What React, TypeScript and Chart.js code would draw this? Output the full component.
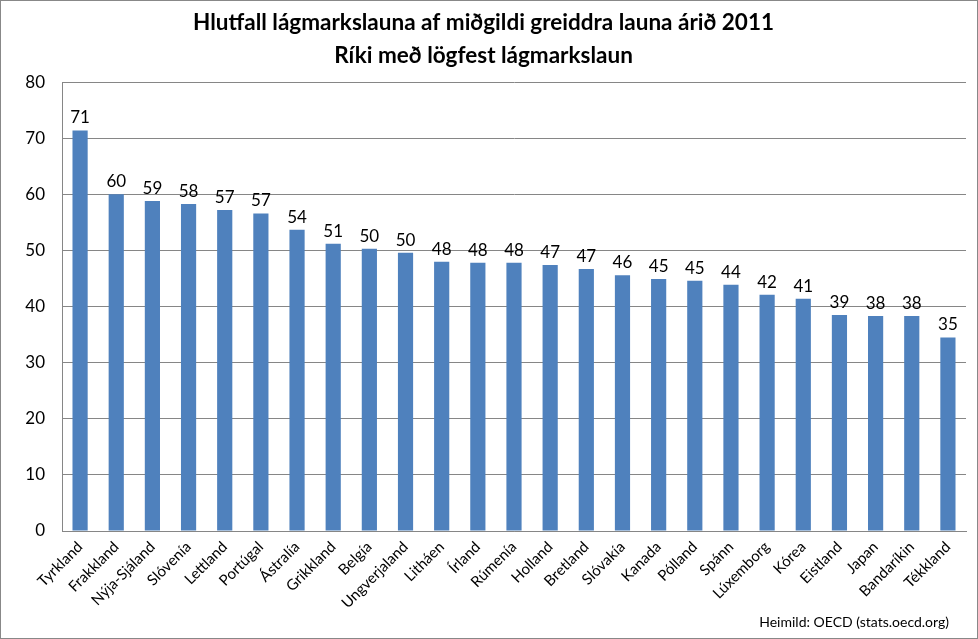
import React, { useEffect, useRef } from "react";
import { Chart, registerables } from "chart.js";

Chart.register(...registerables);

const titleLines = [
  "Hlutfall lágmarkslauna af miðgildi greiddra launa árið 2011",
  "Ríki með lögfest lágmarkslaun",
];
const sourceText = "Heimild: OECD (stats.oecd.org)";

const countries = [
  "Tyrkland", "Frakkland", "Nýja-Sjáland", "Slóvenía", "Lettland", "Portúgal",
  "Ástralía", "Grikkland", "Belgía", "Ungverjaland", "Litháen", "Írland",
  "Rúmenía", "Holland", "Bretland", "Slóvakía", "Kanada", "Pólland", "Spánn",
  "Lúxemborg", "Kórea", "Eistland", "Japan", "Bandaríkin", "Tékkland",
];
const ratios = [
  71.4, 60.0, 58.8, 58.3, 57.2, 56.6, 53.7, 51.2, 50.3, 49.6, 48.0, 47.8,
  47.8, 47.4, 46.7, 45.6, 44.9, 44.6, 43.9, 42.1, 41.4, 38.5, 38.3, 38.3, 34.5,
];
const yTicks = [0, 10, 20, 30, 40, 50, 60, 70, 80];

const FONT = "Lato, 'Liberation Sans', sans-serif";
const AXIS_GRAY = "#868686";
const BAR_BLUE = "#4f81bd";

const valueLabels = {
  id: "valueLabels",
  afterDatasetsDraw(chart: any) {
    const ctx = chart.ctx;
    const meta = chart.getDatasetMeta(0);
    ctx.save();
    ctx.font = `17px ${FONT}`;
    ctx.fillStyle = "#000";
    ctx.textAlign = "center";
    ctx.textBaseline = "bottom";
    meta.data.forEach((bar: any, i: number) => {
      const v = chart.data.datasets[0].data[i];
      ctx.fillText(String(Math.round(v)), bar.x, bar.y - 4);
    });
    ctx.restore();
  },
};

const sourceNote = {
  id: "sourceNote",
  afterDraw(chart: any) {
    const ctx = chart.ctx;
    ctx.save();
    ctx.font = `14px ${FONT}`;
    ctx.fillStyle = "#000";
    ctx.textAlign = "right";
    ctx.textBaseline = "middle";
    ctx.fillText(sourceText, chart.width - 28, chart.height - 16);
    ctx.restore();
  },
};

export default function App() {
  const ref = useRef<HTMLCanvasElement>(null);

  useEffect(() => {
    document.body.style.margin = "0";
    const chart = new Chart(ref.current!, {
      type: "bar",
      data: {
        labels: countries,
        datasets: [
          {
            data: ratios,
            backgroundColor: BAR_BLUE,
            barPercentage: 0.42,
            categoryPercentage: 1,
          },
        ],
      },
      options: {
        animation: false,
        responsive: false,
        devicePixelRatio: 1,
        layout: { padding: { left: 0, right: 11, top: 0, bottom: 0 } },
        plugins: {
          legend: { display: false },
          tooltip: { enabled: false },
          title: {
            display: true,
            text: titleLines,
            color: "#000",
            font: { family: FONT, size: 22.5, weight: "bold", lineHeight: 1.47 },
            padding: { top: 5, bottom: 10 },
          },
        },
        scales: {
          x: {
            grid: { display: false, drawTicks: false },
            border: { display: true, color: AXIS_GRAY, width: 1 },
            ticks: {
              color: "#000",
              font: { family: FONT, size: 15 },
              maxRotation: 45,
              minRotation: 45,
              autoSkip: false,
              padding: 7,
            },
            afterFit(scale: any) {
              scale.height = 107;
            },
          },
          y: {
            min: 0,
            max: 80,
            afterBuildTicks(scale: any) {
              scale.ticks = yTicks.map((v) => ({ value: v }));
            },
            grid: { color: AXIS_GRAY, drawTicks: false, lineWidth: 1 },
            border: { display: true, color: AXIS_GRAY, width: 1 },
            ticks: {
              color: "#000",
              font: { family: FONT, size: 17 },
              padding: 17,
            },
            afterFit(scale: any) {
              scale.width = 61;
            },
          },
        },
      },
      plugins: [valueLabels, sourceNote],
    });
    return () => chart.destroy();
  }, []);

  return (
    <div
      style={{
        position: "absolute",
        left: 0,
        top: 0,
        width: 976,
        height: 637,
        border: "1px solid #888",
        background: "#fff",
      }}
    >
      <canvas ref={ref} width={976} height={637} style={{ display: "block" }} />
    </div>
  );
}
